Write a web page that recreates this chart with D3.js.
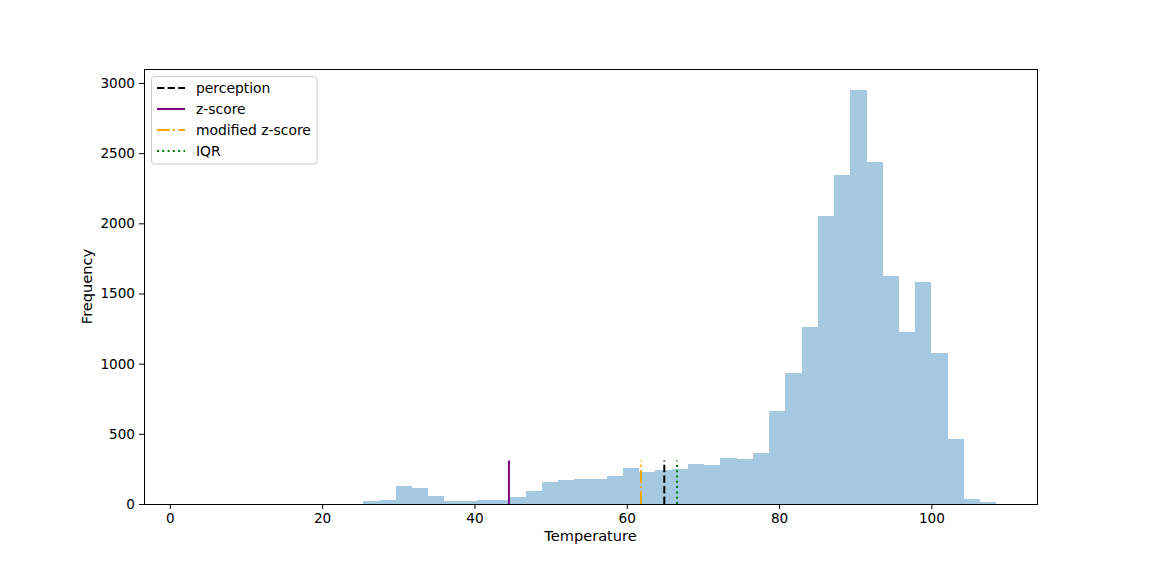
<!DOCTYPE html>
<html>
<head>
<meta charset="utf-8">
<script src="https://cdn.jsdelivr.net/npm/d3@7"></script>
<style>
  html, body { margin: 0; padding: 0; background: #fff; }
  svg { display: block; font-family: "DejaVu Sans", sans-serif; }
</style>
</head>
<body>
<svg id="chart" width="1152" height="576"></svg>
<script>
// ---- data ----
const binStart = 1.94;     // left edge of first histogram bin (Temperature)
const binWidth = 2.132;    // bin width (50 bins)
const counts = [
  0, 0, 0, 0, 0, 0, 0, 0, 0, 0, 0,
  21, 30, 130, 116, 59, 21, 21, 30, 30, 52,
  95, 159, 173, 180, 180, 202, 259, 230, 245, 252,
  287, 280, 330, 323, 366, 664, 936, 1262, 2055, 2347,
  2952, 2439, 1623, 1228, 1585, 1078, 465, 38, 16
];
const thresholdNames = ["perception", "z-score", "modified z-score", "IQR"];
const thresholdValues = [64.93, 44.53, 61.87, 66.6];
const thresholdColors = ["#000000", "#800080", "#ffa500", "#008000"];
const thresholdDash = ["7.4,3.2", null, "12.8,3.2,2,3.2", "2,3.3"];
const lineTop = 310;
const xTicks = [0, 20, 40, 60, 80, 100];
const yTicks = [0, 500, 1000, 1500, 2000, 2500, 3000];

// ---- layout ----
const L = 144, R = 1037, T = 69, B = 504;
const svg = d3.select("#chart");

const bins = counts.map((c, i) => ({ x0: binStart + i * binWidth, x1: binStart + (i + 1) * binWidth, n: c }));
const dataMin = bins[0].x0, dataMax = bins[bins.length - 1].x1;
const pad = (dataMax - dataMin) * 0.05;
const x = d3.scaleLinear().domain([dataMin - pad, dataMax + pad]).range([L, R]);
const y = d3.scaleLinear().domain([0, d3.max(counts) * 1.05]).range([B, T]);

// bars
svg.append("g").selectAll("rect").data(bins.filter(d => d.n > 0)).join("rect")
  .attr("x", d => x(d.x0))
  .attr("width", d => x(d.x1) - x(d.x0))
  .attr("y", d => y(d.n))
  .attr("height", d => y(0) - y(d.n))
  .attr("fill", "#1f77b4")
  .attr("fill-opacity", 0.4)
  .attr("shape-rendering", "crispEdges");

// threshold lines
const th = thresholdNames.map((n, i) => ({ name: n, v: thresholdValues[i], c: thresholdColors[i], dash: thresholdDash[i] }));
svg.append("g").selectAll("line").data(th).join("line")
  .attr("x1", d => x(d.v)).attr("x2", d => x(d.v))
  .attr("y1", y(0)).attr("y2", y(lineTop))
  .attr("stroke", d => d.c)
  .attr("stroke-width", 2)
  .attr("stroke-dasharray", d => d.dash);

// axes
const xAxis = d3.axisBottom(x).tickValues(xTicks).tickSize(5).tickPadding(4).tickFormat(d3.format("d"));
const yAxis = d3.axisLeft(y).tickValues(yTicks).tickSize(5).tickPadding(4).tickFormat(d3.format("d"));
const gx = svg.append("g").attr("transform", `translate(0,${B})`).call(xAxis);
const gy = svg.append("g").attr("transform", `translate(${L},0)`).call(yAxis);
[gx, gy].forEach(g => {
  g.select(".domain").remove();
  g.selectAll("text").attr("font-size", 13.6).attr("font-family", "DejaVu Sans").attr("fill", "#000");
  g.selectAll("line").attr("stroke", "#000").attr("stroke-width", 1);
});

// spines
svg.append("rect").attr("x", L).attr("y", T).attr("width", R - L).attr("height", B - T)
  .attr("fill", "none").attr("stroke", "#000").attr("stroke-width", 1).attr("shape-rendering", "crispEdges");

// axis labels
svg.append("text").attr("x", (L + R) / 2).attr("y", 541).attr("text-anchor", "middle")
  .attr("font-size", 14.6).text("Temperature");
svg.append("text").attr("transform", `translate(92,${(T + B) / 2}) rotate(-90)`).attr("text-anchor", "middle")
  .attr("font-size", 14.6).text("Frequency");

// legend
const lg = svg.append("g");
lg.append("rect").attr("x", 151.5).attr("y", 76.5).attr("width", 165.5).attr("height", 87.5)
  .attr("rx", 3).attr("fill", "#fff").attr("fill-opacity", 0.8).attr("stroke", "#cccccc").attr("stroke-width", 1);
const rows = lg.selectAll("g.row").data(th).join("g").attr("class", "row")
  .attr("transform", (d, i) => `translate(0,${88 + i * 21})`);
rows.append("line").attr("x1", 157).attr("x2", 185).attr("y1", 0).attr("y2", 0)
  .attr("stroke", d => d.c).attr("stroke-width", 2).attr("stroke-dasharray", d => d.dash);
rows.append("text").attr("x", 196).attr("y", 5).attr("font-size", 13.9).text(d => d.name);
</script>
</body>
</html>
